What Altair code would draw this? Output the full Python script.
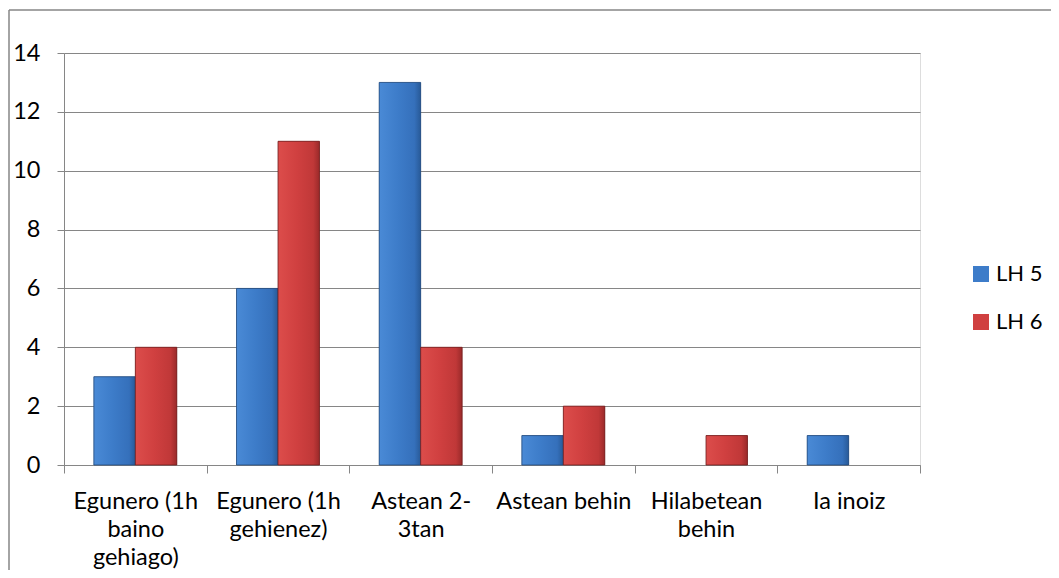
import altair as alt
import pandas as pd

categories = [
    "Egunero (1h baino gehiago)",
    "Egunero (1h gehienez)",
    "Astean 2-3tan",
    "Astean behin",
    "Hilabetean behin",
    "Ia inoiz",
]
label_lines = [
    ["Egunero (1h", "baino", "gehiago)"],
    ["Egunero (1h", "gehienez)"],
    ["Astean 2-", "3tan"],
    ["Astean behin"],
    ["Hilabetean", "behin"],
    ["Ia inoiz"],
]
series = ["LH 5", "LH 6"]
lh5 = [3, 6, 13, 1, 0, 1]
lh6 = [4, 11, 4, 2, 1, 0]
y_ticks = [0, 2, 4, 6, 8, 10, 12, 14]

rows = []
for c, a, b in zip(categories, lh5, lh6):
    rows.append({"cat": c, "series": "LH 5", "value": a})
    rows.append({"cat": c, "series": "LH 6", "value": b})
df = pd.DataFrame(rows)

# label expression with line breaks
expr = "''"
for c, lines in reversed(list(zip(categories, label_lines))):
    arr = "[" + ",".join("'" + l + "'" for l in lines) + "]"
    expr = f"datum.label == '{c}' ? {arr} : ({expr})"

W, H = 856, 412
FONT = "Lato"
FS = 23.5
GRID = "#868686"

blue_grad = alt.Gradient(
    gradient="linear", x1=0, y1=0, x2=1, y2=0,
    stops=[
        alt.GradientStop(offset=0, color="#4a8ad6"),
        alt.GradientStop(offset=0.45, color="#3d7cc9"),
        alt.GradientStop(offset=0.85, color="#3570bb"),
        alt.GradientStop(offset=1, color="#285a98"),
    ],
)
red_grad = alt.Gradient(
    gradient="linear", x1=0, y1=0, x2=1, y2=0,
    stops=[
        alt.GradientStop(offset=0, color="#dc4d4b"),
        alt.GradientStop(offset=0.45, color="#d04040"),
        alt.GradientStop(offset=0.85, color="#c03838"),
        alt.GradientStop(offset=1, color="#9a2a2a"),
    ],
)

x_enc = alt.X(
    "cat:N",
    sort=categories,
    scale=alt.Scale(paddingInner=0, paddingOuter=0),
    axis=alt.Axis(
        title=None,
        labelAngle=0,
        labelExpr=expr,
        labelFont=FONT,
        labelFontSize=FS,
        labelColor="#000000",
        labelLineHeight=28,
        labelPadding=16,
        labelBaseline="top",
        tickBand="extent",
        tickSize=8,
        tickColor=GRID,
        domainColor=GRID,
        grid=False,
        labelLimit=300,
    ),
)
xoff_enc = alt.XOffset(
    "series:N", sort=series,
    scale=alt.Scale(domain=series, paddingOuter=0.72, paddingInner=0),
)
y_enc = alt.Y(
    "value:Q",
    scale=alt.Scale(domain=[0, 14], nice=False),
    axis=alt.Axis(
        title=None,
        values=y_ticks,
        labelFont=FONT,
        labelFontSize=FS,
        labelColor="#000000",
        labelPadding=17,
        tickSize=7,
        tickColor=GRID,
        domainColor=GRID,
        gridColor=GRID,
        gridWidth=1.2,
    ),
)

base = alt.Chart(df).transform_filter(alt.datum.value > 0).mark_bar().encode(
    x=x_enc,
    xOffset=xoff_enc,
    y=y_enc,
    color=alt.Color(
        "series:N",
        scale=alt.Scale(domain=series, range=["#3d7cc9", "#d04040"]),
        legend=alt.Legend(
            title=None,
            orient="none",
            legendX=906,
            legendY=210,
            labelFont=FONT,
            labelFontSize=22,
            labelColor="#000000",
            symbolType="square",
            symbolSize=256,
            symbolStrokeWidth=0,
            labelOffset=4,
            rowPadding=26,
            padding=0,
        ),
    ),
)

blue = alt.Chart(df).transform_filter(
    (alt.datum.series == "LH 5") & (alt.datum.value > 0)
).mark_bar(fill=blue_grad, stroke="#23497a", strokeWidth=0.8).encode(
    x=x_enc, xOffset=xoff_enc, y=y_enc
)

red = alt.Chart(df).transform_filter(
    (alt.datum.series == "LH 6") & (alt.datum.value > 0)
).mark_bar(fill=red_grad, stroke="#6e1e1e", strokeWidth=0.8).encode(
    x=x_enc, xOffset=xoff_enc, y=y_enc
)

one = pd.DataFrame({"a": [0]})
frame_left = alt.Chart(one).mark_rule(color=GRID, strokeWidth=1.5).encode(
    x=alt.value(-55), y=alt.value(-43), y2=alt.value(H + 200)
)
frame_top = alt.Chart(one).mark_rule(color=GRID, strokeWidth=1.5).encode(
    x=alt.value(-55), x2=alt.value(W + 300), y=alt.value(-43)
)

chart = alt.layer(base, blue, red, frame_left, frame_top).properties(
    width=W,
    height=H,
    autosize=alt.AutoSizeParams(type="none"),
    padding={"left": 56, "top": 45, "right": 131, "bottom": 105},
).configure_view(stroke=None).configure(background="#ffffff")

chart.save("out.html", embed_options={"renderer": "svg", "actions": False})
